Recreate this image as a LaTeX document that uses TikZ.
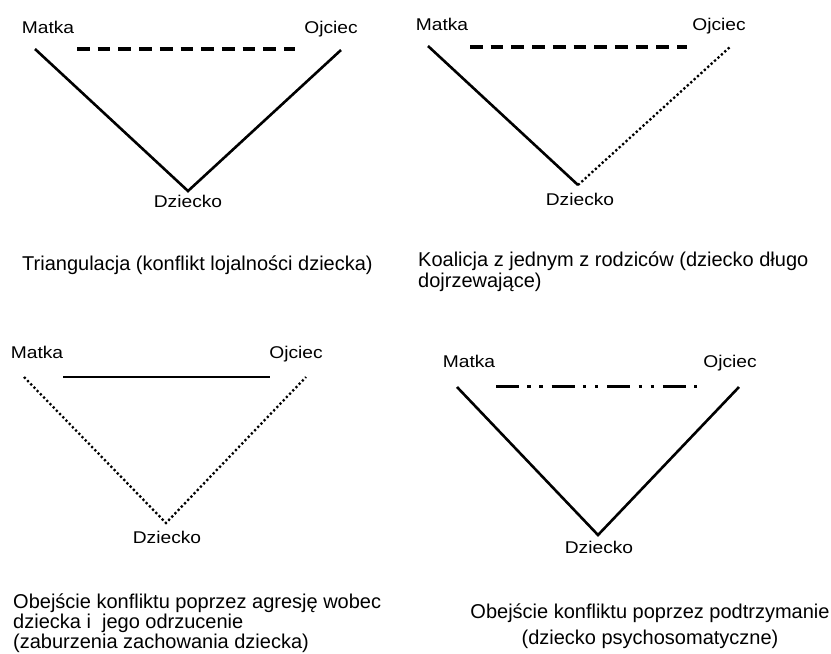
\documentclass[tikz,border=0pt]{standalone}
\usepackage{fontspec}
\setmainfont{Liberation Sans}
\newfontfamily\lblfont{Liberation Sans}[FakeStretch=1.13]
\tikzset{
  lbl/.style={font=\lblfont\fontsize{17}{19}\selectfont, inner sep=0pt, anchor=base},
  note/.style={font=\fontsize{20}{21}\selectfont, inner sep=0pt, anchor=base west, align=left},
  tie/.style={line width=2.6pt},
  quarrel/.style={line width=3.3pt, dash pattern=on 12.7pt off 8pt},
  loose/.style={line width=2.3pt, dash pattern=on 2.2pt off 2.4pt},
  strain/.style={line width=3pt, dash pattern=on 23pt off 8.3pt on 3.3pt off 8.7pt on 3.3pt off 9pt}
}
\begin{document}
\begin{tikzpicture}[x=1pt, y=-1pt]
  \useasboundingbox (0,0) rectangle (831,654);

  \node[lbl] (matkaA) at (48,33) {Matka};
  \node[lbl] (ojciecA) at (331,33) {Ojciec};
  \node[lbl] (dzieckoA) at (188,207) {Dziecko};
  \coordinate (mA) at (35,49);
  \coordinate (dA) at (188,191);
  \coordinate (oA) at (341,50);
  \coordinate (lA) at (77,49);
  \coordinate (rA) at (295,49);
  \draw[tie] (mA) -- (dA) -- (oA);
  \draw[quarrel] (lA) -- (rA);
  \node[note] (noteA) at (22,270) {Triangulacja (konflikt lojalności dziecka)};

  \node[lbl] (matkaB) at (442,30) {Matka};
  \node[lbl] (ojciecB) at (719,30) {Ojciec};
  \node[lbl] (dzieckoB) at (580,205) {Dziecko};
  \coordinate (mB) at (428,46);
  \coordinate (dB) at (578,185);
  \coordinate (oB) at (730,47);
  \coordinate (lB) at (470,47);
  \coordinate (rB) at (687,47);
  \draw[tie] (mB) -- (dB);
  \draw[loose] (dB) -- (oB);
  \draw[quarrel] (lB) -- (rB);
  \node[note] (noteB) at (418,287) {Koalicja z jednym z rodziców (dziecko długo\\dojrzewające)};

  \node[lbl] (matkaC) at (37,358) {Matka};
  \node[lbl] (ojciecC) at (296,358) {Ojciec};
  \node[lbl] (dzieckoC) at (167,543) {Dziecko};
  \coordinate (mC) at (24,377);
  \coordinate (dC) at (166,523);
  \coordinate (oC) at (306,377);
  \coordinate (lC) at (63,377);
  \coordinate (rC) at (270,377);
  \draw[loose] (mC) -- (dC) -- (oC);
  \draw[tie] (lC) -- (rC);
  \node[note, font=\fontsize{20}{18}\selectfont] (noteC) at (13,648) {Obejście konfliktu poprzez agresję wobec\\dziecka i\ \ jego odrzucenie\\(zaburzenia zachowania dziecka)};

  \node[lbl] (matkaD) at (469,367) {Matka};
  \node[lbl] (ojciecD) at (730,367) {Ojciec};
  \node[lbl] (dzieckoD) at (599,553) {Dziecko};
  \coordinate (mD) at (457,387);
  \coordinate (dD) at (598,535);
  \coordinate (oD) at (739,387);
  \coordinate (lD) at (496,386);
  \coordinate (rD) at (698,386);
  \draw[tie] (mD) -- (dD) -- (oD);
  \draw[strain] (lD) -- (rD);
  \node[note, align=center, anchor=base, font=\fontsize{20}{26}\selectfont] (noteD) at (650,644) {Obejście konfliktu poprzez podtrzymanie\\(dziecko psychosomatyczne)};
\end{tikzpicture}
\end{document}
